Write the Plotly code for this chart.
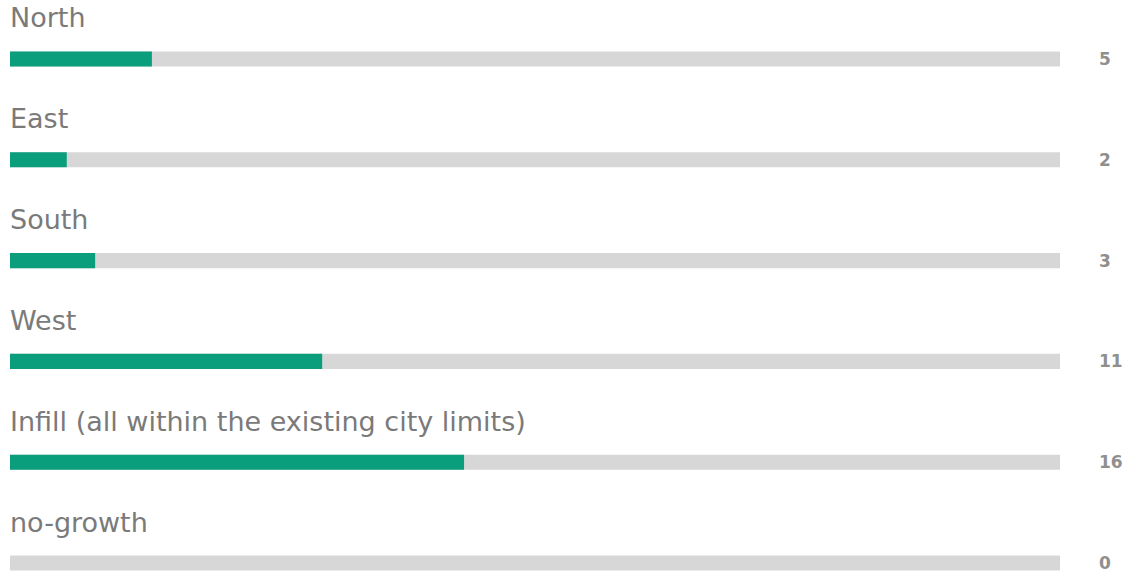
import plotly.graph_objects as go

# regions and their counts
regions = ["North", "East", "South", "West",
           "Infill (all within the existing city limits)", "no-growth"]
counts = [5, 2, 3, 11, 16, 0]
total = sum(counts)

green = "#0a9e7c"
gray = "#d7d7d7"

fig = go.Figure()

# gray track behind each bar
fig.add_trace(go.Bar(
    y=regions, x=[total] * len(regions), orientation="h",
    marker=dict(color=gray, line=dict(width=0)), width=0.15,
    hoverinfo="skip",
))
fig.add_trace(go.Bar(
    y=regions, x=counts, orientation="h",
    marker=dict(color=green, line=dict(width=0)), width=0.15,
))

# category labels above bars, counts at the right
for r, c in zip(regions, counts):
    fig.add_annotation(x=0, y=r, text=r, showarrow=False,
                       xanchor="left", yanchor="middle", yshift=41, xshift=-2,
                       font=dict(family="DejaVu Sans", size=27, color="#7a7a7a"))
    fig.add_annotation(x=1, xref="paper", y=r, text=f"<b>{c}</b>", showarrow=False,
                       xanchor="left", yanchor="middle", xshift=37,
                       font=dict(family="DejaVu Sans", size=17, color="#8f8f8f"))

fig.update_layout(
    width=1127, height=575,
    margin=dict(l=10, r=67, t=0, b=0),
    barmode="overlay",
    showlegend=False,
    plot_bgcolor="white",
    paper_bgcolor="white",
    xaxis=dict(range=[0, total], visible=False),
    yaxis=dict(type="category", categoryarray=regions,
               range=[5.119, -0.585], visible=False),
)

# drop the default body margin so the figure fills the window
fig.write_html("out.html", config={"displayModeBar": False},
               post_script="document.body.style.margin='0';"
                           "document.body.style.overflow='hidden';")
